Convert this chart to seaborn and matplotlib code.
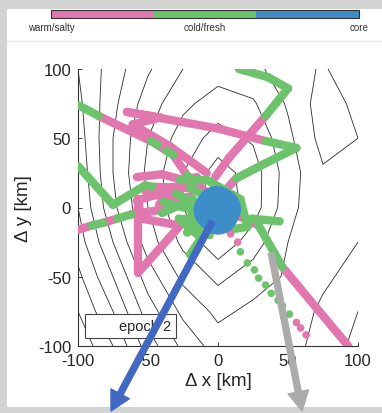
import numpy as np
import pandas as pd
import matplotlib
matplotlib.use("Agg")
import matplotlib.pyplot as plt
import seaborn as sns
from matplotlib.colors import ListedColormap, BoundaryNorm
from matplotlib.cm import ScalarMappable
from matplotlib.patches import Rectangle
from matplotlib.lines import Line2D

# ---- water-mass classes and colours ----
classes = ["warm/salty", "cold/fresh", "core"]
class_colors = ["#e277b0", "#6cc36b", "#3d8dc9"]
WARM, COLD = classes[0], classes[1]

# ---- background field (coarse grid, km) ----
grid_x = [-100, -75, -50, -25, 0, 25, 50, 75, 100]
grid_y = [100, 75, 50, 25, 0, -25, -50, -75, -100]
field = [
    [0.8, 2.0, 3.1, 4.0, 4.4, 4.2, 3.6, 3.1, 3.8],
    [0.6, 2.2, 3.6, 4.6, 5.2, 4.9, 3.9, 2.8, 3.4],
    [0.4, 2.4, 4.0, 5.2, 5.9, 5.5, 4.2, 2.9, 3.2],
    [0.2, 2.4, 4.2, 5.6, 6.8, 6.0, 4.4, 3.3, 3.4],
    [0.0, 2.2, 4.0, 5.6, 7.0, 6.0, 4.3, 3.3, 3.7],
    [-0.4, 1.6, 3.6, 5.0, 6.2, 5.2, 4.0, 3.6, 4.0],
    [-1.0, 0.8, 2.8, 4.2, 5.0, 4.4, 3.9, 3.9, 4.2],
    [-1.6, 0.0, 2.0, 3.4, 4.2, 3.8, 3.7, 4.1, 4.0],
    [-2.2, -0.8, 1.2, 2.6, 3.6, 3.5, 3.8, 4.2, 3.9],
]
field_levels = [-1.6, -0.8, 0.0, 0.8, 1.6, 2.4, 3.2, 4.0, 4.8, 5.6, 6.4]

# ---- float tracks: waypoints (km) and the water class of each leg ----
track_nw_x = [-100, -85, -48, -43, -37, -32, -22, -17, -5]
track_nw_y = [74, 66, 48, 45, 41, 38, 23, 19, 8]
track_nw_c = [COLD, WARM, COLD, WARM, COLD, WARM, COLD, WARM]

track_z_x = [-65, -41, -61, -34, -8]
track_z_y = [69, 65, 60, 44, 25]
track_z_c = [WARM, WARM, WARM, WARM]

track_top_x = [-65, 0, 34, 56, 34, 13, 3]
track_top_y = [69, 57, 48, 43, 32, 21, 10]
track_top_c = [WARM, WARM, COLD, COLD, COLD, WARM]

track_ne_x = [-2, 8, 34, 50, 36, 15]
track_ne_y = [22, 36, 66, 86, 94, 100]
track_ne_c = [WARM, WARM, COLD, COLD, COLD]

track_w_x = [-100, -75, -52, -47, -20, -8]
track_w_y = [30, 2, 16, 15, 14, 8]
track_w_c = [COLD, COLD, COLD, WARM, COLD]

track_sw_x = [-100, -90, -82, -72, -62, -50, -34]
track_sw_y = [-16, -13, -11, -8, -5, -3, -1]
track_sw_c = [WARM, COLD, WARM, COLD, WARM, WARM]

track_tri_x = [-57, -57, -27, -55, -57]
track_tri_y = [6, -47, -13, -8, 6]
track_tri_c = [WARM, WARM, WARM, WARM]

track_mix1_x = [-58, -40, -25, -15]
track_mix1_y = [22, 24, 20, 22]
track_mix1_c = [WARM, WARM, WARM]
track_mix2_x = [-58, -45, -25]
track_mix2_y = [5, 9, 5]
track_mix2_c = [WARM, WARM]
track_mix3_x = [-52, -30, -42, -20]
track_mix3_y = [12, 15, 2, 8]
track_mix3_c = [WARM, WARM, WARM]

track_blob1_x = [-39, -10, -22, -5, -15, -8, 5]
track_blob1_y = [4, -4, -18, -10, -30, -12, -5]
track_blob1_c = [COLD, COLD, COLD, COLD, COLD, COLD]
track_blob2_x = [-27, -8, 16, 21, 8]
track_blob2_y = [20, 20, 6, -14, -16]
track_blob2_c = [COLD, COLD, COLD, COLD]
track_blob3_x = [-40, -18, -8, -28, -12, -20]
track_blob3_y = [-4, 6, -8, -8, -22, -34]
track_blob3_c = [COLD, COLD, COLD, COLD, COLD]
track_blob4_x = [-30, -15, -22, -6]
track_blob4_y = [10, 2, -12, -20]
track_blob4_c = [COLD, COLD, COLD]

track_se_x = [12, 20, 29, 46, 93]
track_se_y = [-6, -8, -13, -43, -100]
track_se_c = [WARM, WARM, COLD, WARM]
track_se2_x = [24, 44]
track_se2_y = [-8, -10]
track_se2_c = [COLD]

tracks = [
    (track_nw_x, track_nw_y, track_nw_c),
    (track_z_x, track_z_y, track_z_c),
    (track_top_x, track_top_y, track_top_c),
    (track_ne_x, track_ne_y, track_ne_c),
    (track_w_x, track_w_y, track_w_c),
    (track_sw_x, track_sw_y, track_sw_c),
    (track_tri_x, track_tri_y, track_tri_c),
    (track_mix1_x, track_mix1_y, track_mix1_c),
    (track_mix2_x, track_mix2_y, track_mix2_c),
    (track_mix3_x, track_mix3_y, track_mix3_c),
    (track_blob1_x, track_blob1_y, track_blob1_c),
    (track_blob2_x, track_blob2_y, track_blob2_c),
    (track_blob3_x, track_blob3_y, track_blob3_c),
    (track_blob4_x, track_blob4_y, track_blob4_c),
    (track_se_x, track_se_y, track_se_c),
    (track_se2_x, track_se2_y, track_se2_c),
]

# sparse profiles (single dots)
dots_x = [9, 14, 16, 21, 26, 29, 34, 38, 43, 46, 51, 56, 59, 63]
dots_y = [-19, -25, -32, -40, -45, -51, -56, -62, -67, -71, -77, -83, -87, -92]
dots_c = [WARM, WARM, COLD, COLD, COLD, COLD, COLD, COLD, COLD, COLD, COLD, WARM, WARM, WARM]

# eddy core
core_x = [-3, 0, 2, -1]
core_y = [-2, -5, -1, 1]

# ---- figure ----
sns.set_theme(style="white")
plt.rcParams["font.family"] = ["Liberation Sans", "DejaVu Sans"]
plt.rcParams["axes.unicode_minus"] = False
ink = "#262626"

W, H = 382, 414
fig = plt.figure(figsize=(W / 100, H / 100), dpi=100, facecolor="#d3d3d3")
fig.patches.append(Rectangle((7 / W, 6 / H), 1 - 7 / W, 398 / H,
                             transform=fig.transFigure, facecolor="white",
                             edgecolor="none", zorder=-10))
fig.add_artist(Line2D([7 / W, 1], [1 - 42 / H, 1 - 42 / H],
                      transform=fig.transFigure, color="#e6e6e6", lw=1))

palette = dict(zip(classes, class_colors))

ax = fig.add_axes([78 / W, 1 - 347 / H, 280 / W, 277 / H])
ax.set_facecolor("none")

ax.contour(grid_x, grid_y, np.array(field), levels=field_levels,
           colors="#2a2a2a", linewidths=0.6, linestyles="solid", zorder=1)

rows = []
leg_id = 0
for xs, ys, cs in tracks:
    for i, c in enumerate(cs):
        rows.append(dict(x=xs[i], y=ys[i], leg=leg_id, water=c))
        rows.append(dict(x=xs[i + 1], y=ys[i + 1], leg=leg_id, water=c))
        leg_id += 1
legs = pd.DataFrame(rows)

sns.lineplot(data=legs, x="x", y="y", units="leg", hue="water",
             hue_order=[WARM, COLD], palette=palette, estimator=None,
             sort=False, lw=6.0, solid_capstyle="round", legend=False,
             ax=ax, zorder=3)

sns.scatterplot(x=dots_x, y=dots_y, hue=dots_c, palette=palette, s=30,
                edgecolor="none", legend=False, ax=ax, zorder=4)
sns.scatterplot(x=core_x, y=core_y, color=class_colors[2], s=850,
                edgecolor="none", legend=False, ax=ax, zorder=5)

ax.set_xlim(-100, 100)
ax.set_ylim(-100, 100)
ticks = [-100, -50, 0, 50, 100]
ax.set_xticks(ticks)
ax.set_yticks(ticks)
ax.tick_params(direction="in", length=3, width=0.6, colors=ink,
               labelsize=12, pad=5, bottom=True, left=True)
for s in ["top", "right"]:
    ax.spines[s].set_visible(False)
for s in ["left", "bottom"]:
    ax.spines[s].set_color("#333333")
    ax.spines[s].set_linewidth(0.8)
ax.set_xlabel("Δ x [km]", fontsize=13.5, color=ink, labelpad=3)
ax.set_ylabel("Δ y [km]", fontsize=13.5, color=ink, labelpad=4)

handle = Line2D([], [], color="none")
lg = ax.legend([handle], ["epoch 2"], loc="lower left",
               bbox_to_anchor=(0.025, 0.029), borderaxespad=0,
               frameon=True, fancybox=False, framealpha=1, fontsize=10.5,
               handlelength=1.15, borderpad=0.35)
lg.get_frame().set_edgecolor("#444444")
lg.get_frame().set_linewidth(0.8)
for t in lg.get_texts():
    t.set_color(ink)

# direction arrows
ax.annotate("", xy=(111, 2), xycoords="figure pixels", xytext=(-4, -10),
            textcoords="data", annotation_clip=False, zorder=10,
            arrowprops=dict(width=4.3, headwidth=15, headlength=14,
                            color="#4169c4", shrink=0))
ax.annotate("", xy=(302, 2), xycoords="figure pixels", xytext=(38, -33),
            textcoords="data", annotation_clip=False, zorder=10,
            arrowprops=dict(width=4.3, headwidth=15, headlength=14,
                            color="#ababab", shrink=0))

# class colour bar
cax = fig.add_axes([51 / W, 1 - 19 / H, 308 / W, 8 / H])
cmap = ListedColormap(class_colors)
norm = BoundaryNorm([0, 1, 2, 3], 3)
cb = fig.colorbar(ScalarMappable(norm=norm, cmap=cmap), cax=cax,
                  orientation="horizontal", ticks=[0, 1.5, 3])
cb.minorticks_off()
cb.set_ticklabels(classes)
cax.tick_params(which="both", length=2, width=0.6, direction="in",
                labelsize=7, colors="#333333", pad=3)
cb.outline.set_edgecolor("#333333")
cb.outline.set_linewidth(0.8)

fig.savefig("out.png", dpi=100, facecolor=fig.get_facecolor())
